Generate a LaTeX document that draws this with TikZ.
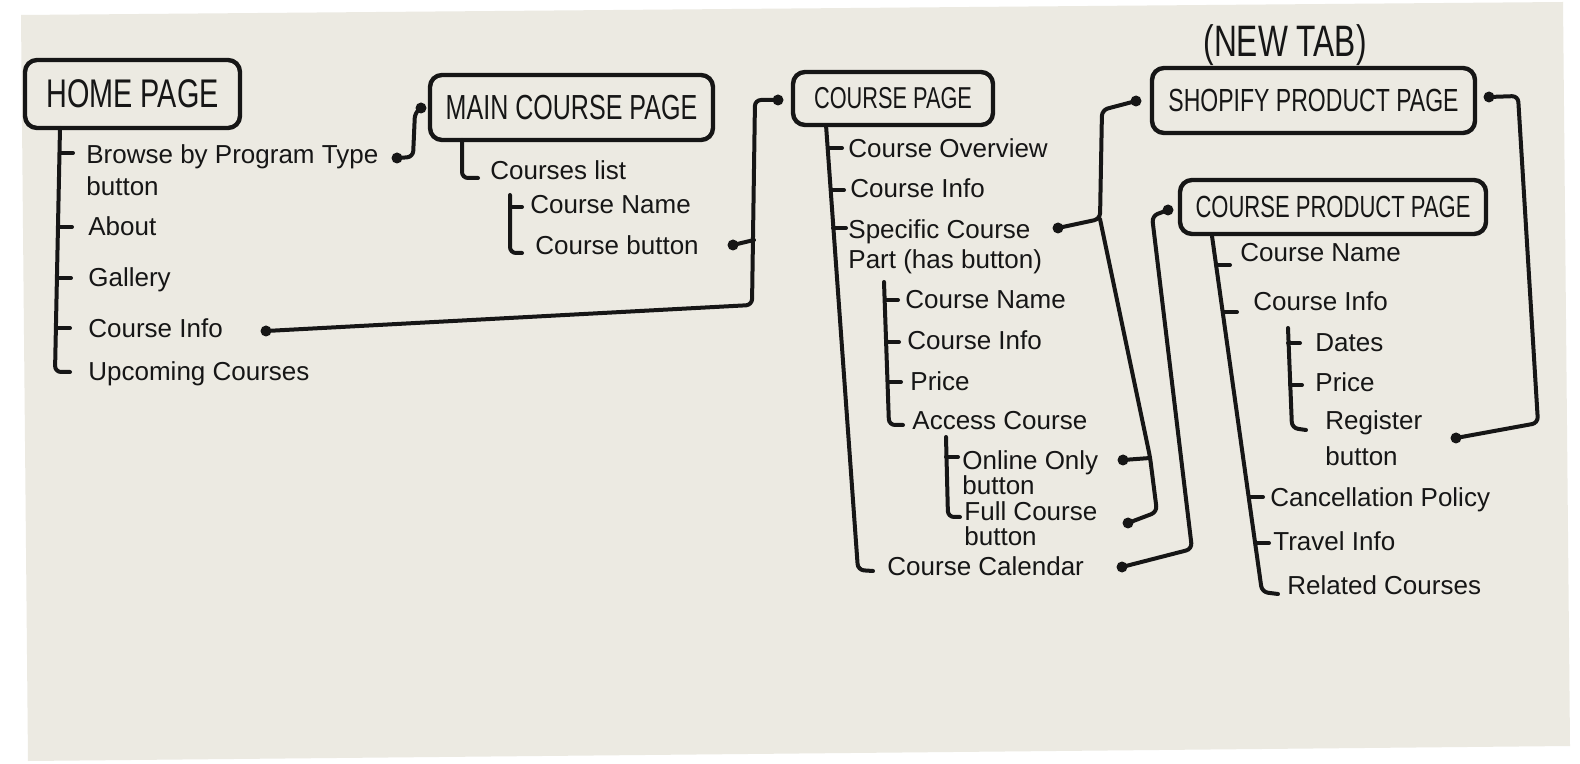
\documentclass[tikz,border=0pt]{standalone}
\usepackage{fontspec}
\setmainfont{Liberation Sans}
\newfontfamily\titlefam[FakeStretch=0.72]{Liberation Sans}
\definecolor{ink}{RGB}{22,22,22}
\definecolor{paper}{RGB}{236,234,226}
\begin{document}
\begin{tikzpicture}[x=0.5pt,y=-0.5pt,
  inkline/.style={draw=ink, line width=2pt, line cap=round, line join=round, rounded corners=3pt},
  pagebox/.style={draw=ink, line width=2.2pt, rounded corners=6pt, inner sep=0pt, text=ink},
  item/.style={font=\fontsize{13}{16}\selectfont, text=ink, inner sep=0pt, anchor=base west},
  mitem/.style={item, anchor=north west, align=left},
  dotn/.style={circle, fill=ink, inner sep=0pt, minimum size=5.5pt},
]
\useasboundingbox (0,0) rectangle (1580,764);
\fill[white] (0,0) rectangle (1580,764);
\fill[paper] (21,15) -- (1563,2) -- (1570,746) -- (28,761) -- cycle;

% ---------- page boxes ----------
\node[pagebox, minimum width=107.5pt, minimum height=34pt, font=\titlefam\fontsize{20}{20}\selectfont] (home) at (132.5,94) {HOME PAGE};
\node[pagebox, minimum width=141.5pt, minimum height=32.5pt, font=\titlefam\fontsize{17.4}{17.4}\selectfont] (main) at (571.5,107.5) {MAIN COURSE PAGE};
\node[pagebox, minimum width=100pt, minimum height=26.5pt, font=\titlefam\fontsize{15.1}{15.1}\selectfont] (course) at (893,98.5) {COURSE PAGE};
\node[pagebox, minimum width=161.5pt, minimum height=32.5pt, font=\titlefam\fontsize{16}{16}\selectfont] (shop) at (1313.5,100.5) {SHOPIFY PRODUCT PAGE};
\node[pagebox, minimum width=153pt, minimum height=27pt, font=\titlefam\fontsize{15.3}{15.3}\selectfont] (cprod) at (1333,207) {COURSE PRODUCT PAGE};
\node[text=ink, inner sep=0pt, font=\titlefam\fontsize{22}{22}\selectfont] (newtab) at (1285,45) {(NEW TAB)};

% ---------- home page tree ----------
\node[mitem] (hBrowse) at (86,144) {Browse by Program Type\\button};
\node[item] (hAbout) at (88,236) {About};
\node[item] (hGallery) at (88,287) {Gallery};
\node[item] (hInfo) at (88,338) {Course Info};
\node[item] (hUpcoming) at (88,381) {Upcoming Courses};
\draw[inkline] (60,128) -- (55,372) -- (70,372);
\draw[inkline] (60,153) -- (73,153);
\draw[inkline] (59,227) -- (72,227);
\draw[inkline] (58,278) -- (71,278);
\draw[inkline] (57,328) -- (70,328);

% ---------- main course page tree ----------
\node[item] (mList) at (490,180) {Courses list};
\node[item] (mName) at (530,214) {Course Name};
\node[item] (mButton) at (535,255) {Course button};
\draw[inkline] (462,140) -- (462,178) -- (478,178);
\draw[inkline] (510,195) -- (510,253) -- (522,253);
\draw[inkline] (510,207) -- (522,207);

% ---------- course page tree ----------
\node[item] (cOverview) at (848,158) {Course Overview};
\node[item] (cInfo) at (850,198) {Course Info};
\node[mitem, font=\fontsize{13}{15}\selectfont] (cSpecific) at (848,219) {Specific Course\\Part (has button)};
\node[item] (cName) at (905,309) {Course Name};
\node[item] (cInfoB) at (907,350) {Course Info};
\node[item] (cPrice) at (910,391) {Price};
\node[item] (cAccess) at (912,430) {Access Course};
\node[mitem, font=\fontsize{13}{12.5}\selectfont] (cOnline) at (962,450) {Online Only\\button};
\node[mitem, font=\fontsize{13}{12.5}\selectfont] (cFull) at (964,501) {Full Course\\button};
\node[item] (cCalendar) at (887,575) {Course Calendar};
\draw[inkline] (826,125) -- (858,570) -- (873,571);
\draw[inkline] (828,148) -- (842,148);
\draw[inkline] (831,190) -- (844,190);
\draw[inkline] (833,228) -- (846,228);
\draw[inkline] (884,282) -- (889,425) -- (903,425);
\draw[inkline] (885,300) -- (898,300);
\draw[inkline] (886,342) -- (899,342);
\draw[inkline] (888,382) -- (901,382);
\draw[inkline] (946,437) -- (948,517) -- (960,517);
\draw[inkline] (946,457) -- (958,457);

% ---------- course product page tree ----------
\node[item] (pName) at (1240,262) {Course Name};
\node[item] (pInfo) at (1253,311) {Course Info};
\node[item] (pDates) at (1315,352) {Dates};
\node[item] (pPrice) at (1315,392) {Price};
\node[mitem, font=\fontsize{13}{18}\selectfont] (pRegister) at (1325,410) {Register\\button};
\node[item] (pCancel) at (1270,507) {Cancellation Policy};
\node[item] (pTravel) at (1273,551) {Travel Info};
\node[item] (pRelated) at (1287,594) {Related Courses};
\draw[inkline] (1212,236) -- (1262,592) -- (1278,594);
\draw[inkline] (1216,265) -- (1230,265);
\draw[inkline] (1223,312) -- (1237,312);
\draw[inkline] (1249,497) -- (1263,497);
\draw[inkline] (1255,543) -- (1269,543);
\draw[inkline] (1288,328) -- (1292,428) -- (1306,430);
\draw[inkline] (1288,343) -- (1300,343);
\draw[inkline] (1290,385) -- (1302,385);

% ---------- connector dots ----------
\node[dotn] (dBrowse) at (397,158) {};
\node[dotn] (dMainIn) at (421,108) {};
\node[dotn] (dCInfo) at (266,331) {};
\node[dotn] (dCBtn) at (733,245) {};
\node[dotn] (dCourseIn) at (778,100) {};
\node[dotn] (dSpec) at (1058,228) {};
\node[dotn] (dShopIn) at (1136,101) {};
\node[dotn] (dOnline) at (1123,460) {};
\node[dotn] (dFull) at (1128,523) {};
\node[dotn] (dCal) at (1122,567) {};
\node[dotn] (dCPIn) at (1168,210) {};
\node[dotn] (dShopOut) at (1489,97) {};
\node[dotn] (dReg) at (1456,438) {};

% ---------- connectors ----------
\draw[inkline] (dBrowse.center) -- (413,157) -- (415,112) -- (dMainIn.center);
\draw[inkline] (dCInfo.center) -- (752,305) -- (755,100) -- (dCourseIn.center);
\draw[inkline] (dCBtn.center) -- (754,240);
\draw[inkline] (dSpec.center) -- (1100,219) -- (1102,110) -- (dShopIn.center);
\draw[inkline] (1100,219) -- (1150,457) -- (1157,512) -- (dFull.center);
\draw[inkline] (dOnline.center) -- (1150,458);
\draw[inkline] (dCal.center) -- (1192,549) -- (1152,216) -- (dCPIn.center);
\draw[inkline] (dShopOut.center) -- (1518,96) -- (1538,423) -- (dReg.center);
\end{tikzpicture}
\end{document}
